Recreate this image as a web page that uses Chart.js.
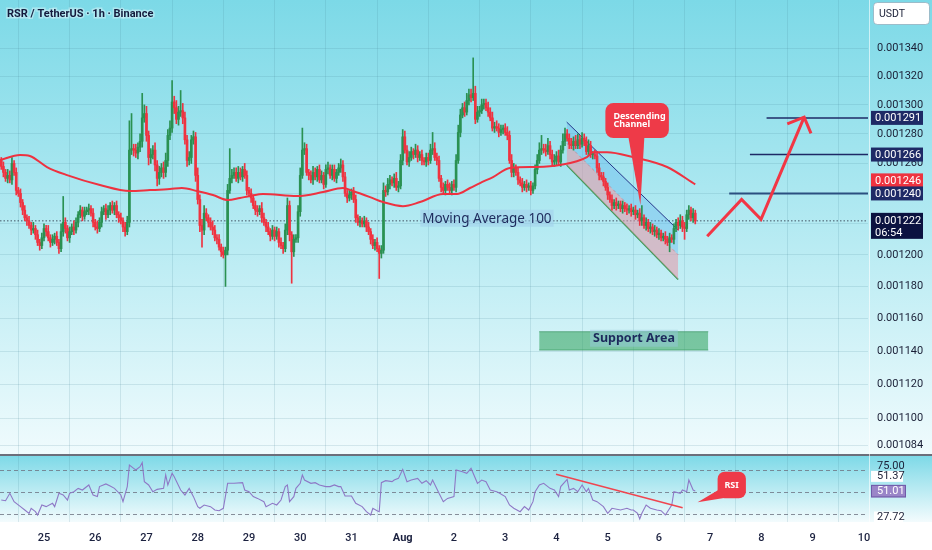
<!DOCTYPE html>
<html><head><meta charset="utf-8">
<script src="https://cdn.jsdelivr.net/npm/chart.js@4.4.1/dist/chart.umd.min.js"></script>
<style>html,body{margin:0;padding:0;background:#fff;overflow:hidden}canvas{display:block}</style>
</head><body>
<canvas id="c" width="932" height="550"></canvas>
<script>
// ===== DATA (prices in micro-USDT: 1222 = 0.001222; time in hours since Jul 25 00:00) =====
const chartTitle = 'RSR / TetherUS \u00b7 1h \u00b7 Binance';
const quoteCurrency = 'USDT';
const dayTickLabels = ['25','26','27','28','29','30','31','Aug','2','3','4','5','6','7','8','9','10'];
const priceTicks = [1084,1100,1120,1140,1160,1180,1200,1220,1240,1260,1280,1300,1320,1340];
const candleStartHour = -20;
const firstOpen = 1262;
const closes = [
1258,1254,1250,1252,1249,1260,1254,1242,1240,1234,
1229,1224,1222,1219,1216,1217,1213,1208,1206,1211,
1217,1215,1211,1208,1210,1212,1208,1204,1215,1221,
1217,1211,1215,1218,1216,1221,1226,1229,1225,1228,
1229,1230,1227,1221,1218,1217,1221,1228,1230,1226,
1229,1232,1229,1232,1226,1224,1222,1218,1215,1221,
1269,1270,1269,1267,1271,1275,1291,1294,1279,1264,
1266,1269,1259,1250,1254,1257,1254,1262,1279,1284,
1302,1298,1290,1295,1296,1291,1276,1262,1264,1276,
1278,1252,1236,1219,1216,1227,1224,1221,1218,1216,
1211,1210,1205,1202,1200,1203,1242,1250,1252,1254,
1250,1254,1251,1256,1252,1242,1240,1237,1232,1229,
1228,1230,1224,1221,1218,1215,1212,1216,1212,1215,
1208,1206,1204,1216,1232,1213,1202,1210,1211,1228,
1252,1269,1270,1254,1252,1249,1254,1251,1256,1249,
1252,1246,1256,1257,1252,1256,1250,1254,1257,1259,
1251,1240,1237,1239,1241,1236,1224,1221,1222,1220,
1222,1218,1215,1210,1206,1208,1204,1201,1203,1242,
1241,1246,1249,1247,1250,1244,1245,1262,1278,1269,
1261,1264,1268,1266,1269,1264,1266,1262,1261,1264,
1262,1269,1270,1264,1262,1250,1244,1242,1246,1244,
1242,1246,1244,1262,1281,1293,1298,1295,1303,1307,
1305,1308,1290,1295,1296,1300,1301,1298,1295,1291,
1284,1285,1284,1281,1283,1284,1281,1279,1262,1254,
1257,1254,1249,1247,1244,1246,1244,1245,1242,1245,
1256,1262,1269,1270,1269,1268,1272,1266,1261,1262,
1265,1261,1269,1275,1280,1277,1273,1272,1275,1272,
1276,1273,1277,1275,1268,1272,1266,1266,1265,1257,
1252,1251,1248,1244,1239,1236,1232,1234,1232,1233,
1230,1232,1230,1229,1230,1228,1229,1226,1227,1222,
1224,1219,1221,1217,1218,1215,1216,1213,1214,1211,
1212,1210,1208,1211,1210,1217,1221,1219,1222,1218,
1217,1226,1229,1224,1227,1222];
const wickUp = [
2,3,2,4,3,4,2,3,2,3, 2,3,2,3,2,4,2,3,2,3, 3,2,4,2,3,2,3,2,5,17, 3,2,3,2,4,3,2,3,2,3,
2,3,2,3,2,4,3,3,2,3, 3,2,3,2,3,2,3,2,3,4, 20,24,3,4,3,5,17,6,5,3, 4,3,5,3,4,3,4,5,4,5,
15,4,5,4,14,5,4,3,4,3, 4,3,5,3,4,5,3,2,3,4, 3,2,3,2,3,2,4,20,4,3, 3,4,3,2,4,3,2,3,2,3,
3,2,4,3,2,3,2,3,2,3, 2,3,2,4,5,3,2,3,2,4, 5,15,4,3,2,3,4,3,2,3, 3,2,3,4,2,3,3,2,3,4,
3,3,2,3,2,3,3,2,3,2, 3,2,3,2,3,2,3,2,3,5, 3,4,3,2,3,4,3,4,5,4, 3,4,3,2,4,3,2,3,2,3,
3,4,11,4,3,3,2,3,2,3, 3,2,3,4,5,4,3,4,5,4, 4,25,5,4,3,4,3,3,4,3, 4,3,4,3,3,2,3,4,3,4,
3,2,3,2,3,2,3,2,3,2, 3,4,5,9,3,4,5,3,3,4, 3,4,3,5,4,3,3,4,3,4, 4,3,4,3,3,4,3,2,3,3,
3,2,3,2,3,2,3,2,3,2, 2,3,2,3,2,3,2,3,2,3, 8,2,3,2,3,2,3,2,3,2, 2,3,2,3,2,3,2,3,4,3,
3,3,3,2,3,2];
const wickDown = [
2,3,2,3,2,3,2,3,2,3, 3,2,3,2,3,2,3,2,3,2, 2,3,2,3,2,3,2,3,2,3, 3,2,3,2,3,2,3,2,3,2,
2,3,2,3,2,3,2,3,2,3, 2,3,2,3,2,3,2,3,3,2, 3,3,4,3,4,3,4,3,4,5, 4,3,4,5,4,3,4,3,4,3,
3,4,3,4,3,4,3,4,3,4, 3,4,3,4,11,3,2,3,2,3, 2,3,2,3,2,20,3,2,3,2, 2,3,2,3,2,3,2,3,2,3,
3,2,3,2,3,2,3,2,3,2, 3,2,3,2,3,4,20,3,2,3, 3,2,3,2,3,2,3,2,3,2, 2,3,2,3,2,3,2,3,2,3,
3,2,3,2,3,2,3,2,3,2, 2,3,2,3,2,3,2,16,3,2, 3,2,3,2,3,2,3,2,3,2, 2,3,2,3,2,3,2,3,2,3,
3,2,3,2,3,2,3,2,3,2, 2,3,2,3,2,3,2,3,2,3, 3,2,3,2,3,2,3,2,3,2, 2,3,2,3,2,3,2,3,2,3,
3,2,3,2,3,2,3,2,3,2, 2,3,2,3,2,3,2,3,2,3, 3,2,3,2,3,2,3,2,3,2, 2,3,2,3,2,3,2,3,2,3,
3,2,3,2,3,2,3,2,3,2, 2,3,2,3,2,3,2,3,2,3, 3,2,3,2,3,2,3,2,3,2, 2,3,2,6,2,3,2,3,2,3,
7,2,3,2,3,2];
const maHours = [-20.6,-11.2,-6.6,1.4,10.8,26.2,40.3,49.6,59.0,64.6,71.6,79.1,86.2,91.8,96.5,102.6,118.5,130.7,140.0,144.7,152.7,158.8,168.1,176.1,186.9,193.4,199.5,204.2,210.3,218.2,230.9,241.6,254.3,257.1,263.7,275.8,291.8,305];
const maValues = [1262.3,1265.7,1265.0,1257.6,1252.2,1245.6,1241.6,1242.2,1242.9,1243.6,1241.6,1239.0,1235.6,1237.0,1238.3,1239.6,1238.3,1240.9,1243.6,1241.6,1237.6,1234.3,1231.6,1234.3,1239.6,1239.6,1243.6,1246.9,1250.9,1257.0,1257.6,1258.9,1264.3,1267.6,1267.6,1264.3,1257.6,1246];
const rsiHours = [-20,-18,-16,-14,-11,-9,-7,-6,-4,-3,-1,1,4,5,7,9,11,12,14,16,18,21,23,25,26,29,31,33,36,37,39,40,42,43,45,46,47,49,51,53,56,57,58,60,61,64,66,68,70,72,73,75,78,80,82,84,86,89,93,94,96,98,100,103,104,107,109,111,113,114,115,117,118,120,121,122,125,127,129,132,134,136,138,139,141,144,146,149,151,153,154,156,157,158,160,163,164,166,168,170,172,175,177,179,181,182,185,187,189,192,193,196,198,200,201,203,205,207,209,212,213,216,218,220,223,225,227,229,230,232,234,237,239,241,242,245,246,248,250,252,254,255,257,259,262,264,266,270,273,275,276,278,279,280,282,284,287,289,291,292,294,295,298,299,301,302,304,305];
const rsiValues = [42.7,42.1,48.8,41.2,36.7,33.6,30.6,35.2,32.1,29.1,38.2,36.7,39.7,36.7,48.8,47.3,42.7,48.8,50.3,53.3,51.8,56.4,47.3,45.8,54.9,57.3,55.5,53.3,47.3,41.2,54.9,74.5,71.5,70.0,73.0,76.7,59.4,56.4,50.3,52.4,53.3,65.5,56.4,67.0,63.9,51.8,47.3,53.3,45.8,36.7,35.2,38.2,36.7,33.6,33.0,35.2,57.9,57.9,58.5,51.8,50.3,45.8,44.2,41.2,36.7,39.7,38.2,42.7,54.9,56.4,41.2,45.8,53.3,57.9,65.5,60.9,57.9,58.5,56.4,54.9,54.9,56.4,54.9,54.9,46.4,46.4,39.7,36.7,32.1,29.1,35.2,33.0,32.1,58.5,60.3,59.4,60.9,62.4,70.6,59.4,60.9,62.4,57.9,60.3,56.4,60.9,48.8,41.2,44.2,45.8,70.0,68.5,67.0,71.5,67.0,57.9,60.9,59.4,51.8,50.3,49.4,45.8,38.2,35.2,32.1,36.7,33.6,41.2,50.3,56.4,57.9,53.3,51.8,45.8,54.9,61.5,51.8,53.3,50.3,56.4,50.3,53.3,42.7,41.2,36.7,30.6,35.2,33.6,35.2,33.6,33.6,30.6,25.5,30.6,38.2,35.2,33.6,33.0,29.1,32.1,38.2,50.3,48.8,51.8,50.3,60.9,51.8,51.0];
const rsiLevels = [70, 50, 30];
const rsiScaleTopLabel = 75.00, rsiMaLast = 51.37, rsiLast = 51.01, rsiScaleLowLabel = 27.72;
const rsiTrendHours = [239.8, 299.1], rsiTrendValues = [66.1, 35.7];
const currentPrice = 1222, countdown = '06:54';
const maLastValue = 1246;
const targetLevels = [1240, 1266, 1291];
const targetStartHours = [320.9, 330.6, 338.4];
const projHours = [310.6, 326.7, 335.8, 356.0], projPrices = [1212, 1236, 1223, 1291.5];
const arrowHeadHours = [348.1, 356.0, 359.2], arrowHeadPrices = [1286.9, 1291.5, 1280.4];
const channelHours = [244.8, 297.0];
const channelTop = [1288.1, 1216.0], channelMid = [1273.7, 1200.1], channelBottom = [1258.9, 1184.4];
const supportHours = [231.9, 311.1], supportLow = 1140.6, supportHigh = 1151.8;
const maLabelAnchor = {h: 177.2, p: 1223.4, text: 'Moving Average 100'};
const supportLabelAnchor = {h: 276.3, p: 1147.5, text: 'Support Area'};
const channelCallout = {h: 279.3, p: 1232.3, lines: ['Descending', 'Channel']};
const rsiCallout = {h: 306.1, v: 40.6, text: 'RSI'};
const xMin = -20.6, xMax = 385.9, yMin = 1078.5, yMax = 1374.8, rsiMin = 22.73, rsiMax = 83.64;

// ===== BUILD =====
const opens = closes.map((c, i) => i === 0 ? firstOpen : closes[i - 1]);
const candleHours = closes.map((c, i) => candleStartHour + i);
const highs = closes.map((c, i) => Math.max(opens[i], c) + wickUp[i]);
const lows = closes.map((c, i) => Math.min(opens[i], c) - wickDown[i]);
const UP = '#2a9152', DN = '#ef3340';
const candleColors = closes.map((c, i) => c >= opens[i] ? UP : DN);
const pts = (xs, ys) => xs.map((x, i) => ({x, y: ys[i]}));
const line = (o) => Object.assign({type: 'line', pointRadius: 0, borderWidth: 1, fill: false, tension: 0, yAxisID: 'y', xAxisID: 'x'}, o);
const fmt = v => (v / 1e6).toFixed(6);
const gridColor = 'rgba(70,130,150,0.16)';
Chart.defaults.font.family = "Roboto, 'Noto Sans', sans-serif";

const datasets = [
  line({label: 'proj', data: pts(projHours, projPrices), borderColor: '#f23645', borderWidth: 3, order: 0}),
  line({label: 'arrow', data: pts(arrowHeadHours, arrowHeadPrices), borderColor: '#f23645', borderWidth: 3, order: 0}),
  ...targetLevels.map((lv, i) => line({label: 'target' + i, data: pts([targetStartHours[i], xMax], [lv, lv]), borderColor: i === 0 ? '#2b4f80' : '#1e2a66', borderWidth: i === 0 ? 2 : 1.5, order: 1})),
  line({label: 'MA100', data: pts(maHours, maValues), borderColor: '#ee3240', borderWidth: 2, cubicInterpolationMode: 'monotone', order: 2}),
  {type: 'bar', label: 'bodies', data: candleHours.map((h, i) => ({x: h, y: [opens[i], closes[i]]})), backgroundColor: candleColors, barThickness: 2, grouped: false, minBarLength: 1, order: 3, yAxisID: 'y'},
  {type: 'bar', label: 'wicks', data: candleHours.map((h, i) => ({x: h, y: [lows[i], highs[i]]})), backgroundColor: candleColors, barThickness: 1, grouped: false, order: 4, yAxisID: 'y'},
  line({label: 'chTop', data: pts(channelHours, channelTop), borderColor: '#27378a', borderWidth: 1, fill: '+1', backgroundColor: 'rgba(80,170,240,0.30)', order: 5}),
  line({label: 'chMid', data: pts(channelHours, channelMid), borderColor: 'rgba(240,60,70,0.45)', borderDash: [3, 3], borderWidth: 1, fill: '+1', backgroundColor: 'rgba(232,150,165,0.55)', order: 6}),
  line({label: 'chBot', data: pts(channelHours, channelBottom), borderColor: '#2e9a50', borderWidth: 1.5, order: 7}),
  line({label: 'supTop', data: pts(supportHours, [supportHigh, supportHigh]), borderColor: 'rgba(60,150,100,0.7)', borderWidth: 1, fill: '+1', backgroundColor: 'rgba(46,160,90,0.55)', order: 8}),
  line({label: 'supBot', data: pts(supportHours, [supportLow, supportLow]), borderColor: 'rgba(60,150,100,0.7)', borderWidth: 1, order: 9}),
  line({label: 'last', data: pts([xMin, xMax], [currentPrice, currentPrice]), borderColor: 'rgba(30,35,55,0.75)', borderDash: [1.5, 2], borderWidth: 1, order: 10}),
  line({label: 'rsi', data: pts(rsiHours, rsiValues), borderColor: '#8e78c6', borderWidth: 1.1, yAxisID: 'rsi', order: 2}),
  line({label: 'rsiTrend', data: pts(rsiTrendHours, rsiTrendValues), borderColor: '#f0454f', borderWidth: 1.5, yAxisID: 'rsi', order: 1})
];

function callout(ctx, x0, y0, w, h, r, tail) {
  ctx.beginPath();
  ctx.roundRect(x0, y0, w, h, r);
  ctx.fill();
  ctx.beginPath();
  ctx.moveTo(tail[0][0], tail[0][1]); ctx.lineTo(tail[1][0], tail[1][1]); ctx.lineTo(tail[2][0], tail[2][1]); ctx.closePath();
  ctx.fill();
}

const decoPlugin = {
  id: 'deco',
  beforeDraw(chart) {
    const {ctx, width, height} = chart; const y = chart.scales.y, r = chart.scales.rsi;
    ctx.save();
    ctx.fillStyle = '#ffffff'; ctx.fillRect(0, 0, width, height);
    let g = ctx.createLinearGradient(0, y.top, 0, y.bottom);
    g.addColorStop(0, '#7cd9e7'); g.addColorStop(0.5, '#b4eaf2'); g.addColorStop(1, '#f0fbfd');
    ctx.fillStyle = g; ctx.fillRect(0, y.top, width, y.bottom - y.top);
    g = ctx.createLinearGradient(0, r.top, 0, r.bottom);
    g.addColorStop(0, '#7cd9e7'); g.addColorStop(1, '#f3fbfd');
    ctx.fillStyle = g; ctx.fillRect(0, r.top, width, r.bottom - r.top);
    ctx.restore();
  },
  beforeDatasetsDraw(chart) {
    const {ctx, chartArea} = chart; const r = chart.scales.rsi;
    ctx.save(); ctx.setLineDash([4, 3]); ctx.strokeStyle = 'rgba(110,115,130,0.8)'; ctx.lineWidth = 1;
    rsiLevels.forEach(v => { const py = Math.round(r.getPixelForValue(v)) + 0.5; ctx.beginPath(); ctx.moveTo(chartArea.left, py); ctx.lineTo(chartArea.right, py); ctx.stroke(); });
    ctx.restore();
  },
  afterDatasetsDraw(chart) {
    const {ctx} = chart; const x = chart.scales.x, y = chart.scales.y, r = chart.scales.rsi;
    ctx.save();
    // MA label
    ctx.font = "13.5px 'Noto Sans'"; ctx.textBaseline = 'middle';
    let lx = x.getPixelForValue(maLabelAnchor.h), ly = y.getPixelForValue(maLabelAnchor.p);
    let tw = ctx.measureText(maLabelAnchor.text).width;
    ctx.fillStyle = 'rgba(160,205,235,0.55)'; ctx.fillRect(lx - 2, ly - 9, tw + 4, 17);
    ctx.fillStyle = '#1d2a5c'; ctx.textAlign = 'left'; ctx.fillText(maLabelAnchor.text, lx, ly + 0.5);
    // Support label
    ctx.font = "bold 12.5px 'Noto Sans'";
    lx = x.getPixelForValue(supportLabelAnchor.h); ly = y.getPixelForValue(supportLabelAnchor.p);
    tw = ctx.measureText(supportLabelAnchor.text).width;
    ctx.fillStyle = 'rgba(150,200,225,0.45)'; ctx.fillRect(lx - tw / 2 - 3, ly - 9, tw + 6, 17);
    ctx.fillStyle = '#1d2a5c'; ctx.textAlign = 'center'; ctx.fillText(supportLabelAnchor.text, lx, ly);
    // Descending channel callout
    let tx = x.getPixelForValue(channelCallout.h), ty = y.getPixelForValue(channelCallout.p);
    ctx.fillStyle = '#ee3a48';
    callout(ctx, tx - 35, ty - 102, 63.5, 35, 8, [[tx - 12, ty - 68], [tx + 4, ty - 68], [tx, ty]]);
    ctx.fillStyle = '#ffffff'; ctx.font = "bold 9px 'Noto Sans'"; ctx.textAlign = 'left';
    ctx.fillText(channelCallout.lines[0], tx - 27, ty - 88.5);
    ctx.fillText(channelCallout.lines[1], tx - 27, ty - 80.5);
    // RSI callout
    tx = x.getPixelForValue(rsiCallout.h); ty = r.getPixelForValue(rsiCallout.v);
    ctx.fillStyle = '#ee3a48';
    callout(ctx, tx + 20, ty - 30.6, 28.3, 26.6, 7, [[tx + 22, ty - 13], [tx + 28, ty - 4.5], [tx, ty]]);
    ctx.fillStyle = '#ffffff'; ctx.font = "bold 9px 'Noto Sans'"; ctx.textAlign = 'center';
    ctx.fillText(rsiCallout.text, tx + 34, ty - 17);
    ctx.restore();
  },
  afterDraw(chart) {
    const {ctx, width, chartArea} = chart; const y = chart.scales.y, r = chart.scales.rsi;
    ctx.save();
    // pane separator + axis separator
    ctx.strokeStyle = '#6b6e7a'; ctx.lineWidth = 2;
    ctx.beginPath(); ctx.moveTo(0, y.bottom); ctx.lineTo(width, y.bottom); ctx.stroke();
    ctx.strokeStyle = 'rgba(255,255,255,0.6)'; ctx.lineWidth = 1;
    ctx.beginPath(); ctx.moveTo(chartArea.right + 1.5, 0); ctx.lineTo(chartArea.right + 1.5, chartArea.bottom); ctx.stroke();
    // title
    ctx.font = "bold 11px Roboto"; ctx.textAlign = 'left'; ctx.textBaseline = 'middle';
    ctx.lineWidth = 3; ctx.strokeStyle = 'rgba(255,255,255,0.35)'; ctx.strokeText(chartTitle, 7, 14);
    ctx.fillStyle = '#141a3c'; ctx.fillText(chartTitle, 7, 14);
    // USDT box
    const ax = chartArea.right + 3;
    ctx.fillStyle = '#ffffff'; ctx.strokeStyle = 'rgba(120,140,160,0.5)'; ctx.lineWidth = 1;
    ctx.beginPath(); ctx.roundRect(ax + 2.5, 2.5, 56, 22, 4); ctx.fill(); ctx.stroke();
    ctx.fillStyle = '#1a1f36'; ctx.font = "10.5px Roboto"; ctx.fillText(quoteCurrency, ax + 8, 14);
    // price tags (shift = collision offset so neighbouring tags do not overlap)
    ctx.font = "11px Roboto";
    const tag = (v, bg, shift) => {
      const py = y.getPixelForValue(v) + (shift || 0);
      ctx.fillStyle = bg; ctx.fillRect(ax, py - 7, 52, 14);
      ctx.fillStyle = '#ffffff'; ctx.fillText(fmt(v), ax + 4, py + 0.5);
    };
    tag(targetLevels[2], '#1e2a66');
    tag(targetLevels[1], '#1e2a66');
    tag(maLastValue, '#ee3340', -4);
    tag(targetLevels[0], '#1e2a66');
    const cp = y.getPixelForValue(currentPrice);
    ctx.fillStyle = '#0b1240'; ctx.fillRect(ax, cp - 8, 52, 26);
    ctx.fillStyle = '#ffffff'; ctx.fillText(fmt(currentPrice), ax + 4, cp + 0.5); ctx.fillText(countdown, ax + 4, cp + 12);
    // RSI axis labels
    ctx.fillStyle = '#1a1f36'; ctx.fillText(rsiScaleTopLabel.toFixed(2), ax + 6, r.getPixelForValue(rsiScaleTopLabel) + 1.5);
    const lastY = r.getPixelForValue(rsiLast);
    ctx.fillStyle = '#ffffff'; ctx.fillRect(ax, lastY - 20, 32, 11);
    ctx.fillStyle = '#1a1f36'; ctx.fillText(rsiMaLast.toFixed(2), ax + 6, lastY - 14.5);
    ctx.fillStyle = '#9a85c8'; ctx.fillRect(ax, lastY - 6, 35, 12.5);
    ctx.strokeStyle = '#6f5aa8'; ctx.lineWidth = 1; ctx.strokeRect(ax + 0.5, lastY - 5.5, 34, 11.5);
    ctx.fillStyle = '#ffffff'; ctx.fillText(rsiLast.toFixed(2), ax + 6, lastY + 0.5);
    const lowY = r.getPixelForValue(rsiScaleLowLabel);
    ctx.fillStyle = '#ffffff'; ctx.fillRect(ax + 3, lowY - 5, 29, 11);
    ctx.fillStyle = '#1a1f36'; ctx.fillText(rsiScaleLowLabel.toFixed(2), ax + 6, lowY + 0.5);
    ctx.restore();
  }
};

new Chart(document.getElementById('c'), {
  type: 'line',
  data: {datasets},
  options: {
    responsive: false, animation: false, events: [],
    layout: {padding: 0},
    plugins: {legend: {display: false}, tooltip: {enabled: false}},
    scales: {
      x: {
        type: 'linear', position: 'bottom', min: xMin, max: xMax, offset: false,
        grid: {color: gridColor, drawTicks: false}, border: {display: false},
        afterBuildTicks: s => { s.ticks = dayTickLabels.map((l, i) => ({value: i * 24})); },
        afterFit: s => { s.height = 28; s.paddingLeft = 0; s.paddingRight = 0; },
        ticks: {autoSkip: false, maxRotation: 0, padding: 10, color: '#1c2240',
          callback: (v, i) => dayTickLabels[i],
          font: c => ({family: "Roboto", size: 11, weight: c.index === 7 ? 'bold' : '500'})}
      },
      y: {
        type: 'logarithmic', position: 'right', stack: 'panes', stackWeight: 455,
        min: yMin, max: yMax, bounds: 'data',
        grid: {color: gridColor, drawTicks: false}, border: {display: false},
        afterBuildTicks: s => { s.ticks = priceTicks.map(v => ({value: v})); },
        afterFit: s => { s.width = 64; s.paddingTop = 0; s.paddingBottom = 0; },
        ticks: {autoSkip: false, padding: 9, color: '#1a1f36', font: {family: 'Roboto', size: 11}, callback: v => fmt(v)}
      },
      rsi: {
        type: 'linear', position: 'right', stack: 'panes', stackWeight: 67,
        min: rsiMin, max: rsiMax,
        grid: {display: false}, border: {display: false},
        ticks: {display: false},
        afterFit: s => { s.width = 64; s.paddingTop = 0; s.paddingBottom = 0; }
      }
    }
  },
  plugins: [decoPlugin]
});
</script>
</body></html>
